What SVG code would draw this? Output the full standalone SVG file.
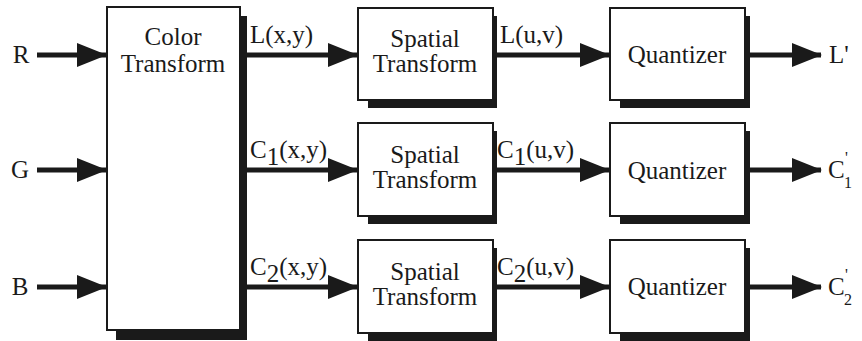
<svg xmlns="http://www.w3.org/2000/svg" width="862" height="341" viewBox="0 0 862 341">
<style>
text{font-family:"Liberation Serif","DejaVu Serif",serif;font-size:25px;fill:#1a1a1a}
.box{fill:#fff;stroke:#1a1a1a;stroke-width:2}
.sh{fill:#1a1a1a}
.c{stroke:#1a1a1a;stroke-width:5;fill:none}
.m{text-anchor:middle}
.pr{font-size:16px}
</style>
<defs>
<marker id="ah" markerUnits="userSpaceOnUse" viewBox="0 0 30 24" refX="29" refY="12" markerWidth="30" markerHeight="24" orient="auto">
<path d="M0,0 L30,12 L0,24 z" fill="#1a1a1a"/>
</marker>
</defs>
<rect width="862" height="341" fill="#fff"/>
<g id="connectors">
<line class="c" x1="37" y1="55" x2="106" y2="55" marker-end="url(#ah)"/>
<line class="c" x1="37" y1="170" x2="106" y2="170" marker-end="url(#ah)"/>
<line class="c" x1="37" y1="287" x2="106" y2="287" marker-end="url(#ah)"/>
<line class="c" x1="246" y1="55" x2="357" y2="55" marker-end="url(#ah)"/>
<line class="c" x1="246" y1="170" x2="357" y2="170" marker-end="url(#ah)"/>
<line class="c" x1="246" y1="287" x2="357" y2="287" marker-end="url(#ah)"/>
<line class="c" x1="497" y1="55" x2="609" y2="55" marker-end="url(#ah)"/>
<line class="c" x1="497" y1="170" x2="609" y2="170" marker-end="url(#ah)"/>
<line class="c" x1="497" y1="287" x2="609" y2="287" marker-end="url(#ah)"/>
<line class="c" x1="750" y1="55" x2="821" y2="55" marker-end="url(#ah)"/>
<line class="c" x1="750" y1="170" x2="821" y2="170" marker-end="url(#ah)"/>
<line class="c" x1="750" y1="287" x2="821" y2="287" marker-end="url(#ah)"/>
<text x="250" y="43">L(x,y)</text>
<text x="250" y="158">C<tspan dy="7">1</tspan><tspan dy="-7">(x,y)</tspan></text>
<text x="250" y="275">C<tspan dy="7">2</tspan><tspan dy="-7">(x,y)</tspan></text>
<text x="500" y="43">L(u,v)</text>
<text x="497" y="158">C<tspan dy="7">1</tspan><tspan dy="-7">(u,v)</tspan></text>
<text x="497" y="275">C<tspan dy="7">2</tspan><tspan dy="-7">(u,v)</tspan></text>
</g>
<g id="R"><text class="m" x="21" y="63">R</text></g>
<g id="G"><text class="m" x="20" y="178">G</text></g>
<g id="B"><text class="m" x="20" y="295">B</text></g>
<g id="color-transform">
<rect class="sh" x="116" y="16" width="131" height="324"/>
<rect class="box" x="107" y="7" width="133" height="323"/>
<text class="m" x="173" y="45">Color</text>
<text class="m" x="173" y="72">Transform</text>
</g>
<g id="spatial1">
<rect class="sh" x="368" y="16" width="129" height="92"/>
<rect class="box" x="358" y="8" width="135" height="92"/>
<text class="m" x="425" y="47">Spatial</text>
<text class="m" x="425" y="72">Transform</text>
</g>
<g id="spatial2">
<rect class="sh" x="368" y="131" width="129" height="93"/>
<rect class="box" x="358" y="123" width="135" height="93"/>
<text class="m" x="425" y="163">Spatial</text>
<text class="m" x="425" y="188">Transform</text>
</g>
<g id="spatial3">
<rect class="sh" x="368" y="248" width="129" height="93"/>
<rect class="box" x="358" y="240" width="135" height="93"/>
<text class="m" x="425" y="280">Spatial</text>
<text class="m" x="425" y="305">Transform</text>
</g>
<g id="quant1">
<rect class="sh" x="620" y="16" width="130" height="92"/>
<rect class="box" x="610" y="8" width="135" height="92"/>
<text class="m" x="677" y="63">Quantizer</text>
</g>
<g id="quant2">
<rect class="sh" x="620" y="131" width="130" height="93"/>
<rect class="box" x="610" y="123" width="135" height="93"/>
<text class="m" x="677" y="179">Quantizer</text>
</g>
<g id="quant3">
<rect class="sh" x="620" y="248" width="130" height="93"/>
<rect class="box" x="610" y="240" width="135" height="93"/>
<text class="m" x="677" y="295">Quantizer</text>
</g>
<g id="out-L"><text x="829" y="63">L'</text></g>
<g id="out-C1"><text x="828" y="178">C</text><text class="pr" x="845" y="163">'</text><text class="pr" x="844" y="188">1</text></g>
<g id="out-C2"><text x="828" y="295">C</text><text class="pr" x="845" y="280">'</text><text class="pr" x="844" y="305">2</text></g>
</svg>
